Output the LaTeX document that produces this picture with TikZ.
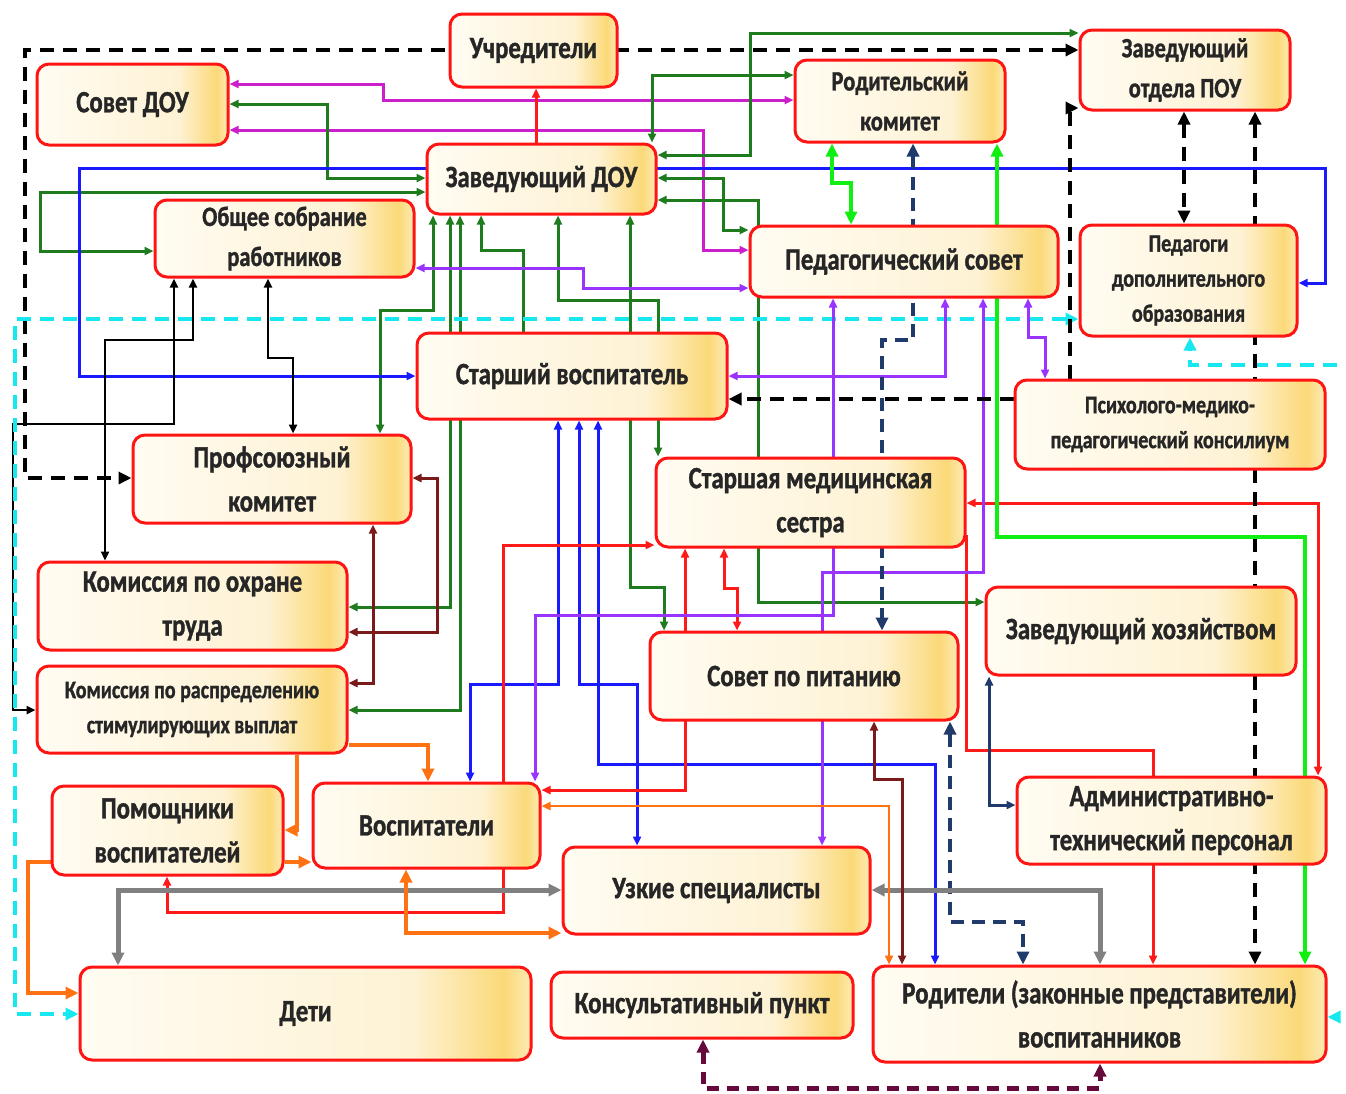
\documentclass[tikz,border=0pt]{standalone}
\usepackage{fontspec}
\setmainfont{Carlito}[FakeStretch=0.8, BoldFeatures={FakeBold=1.2}]
\usetikzlibrary{arrows.meta}
\pgfdeclarelayer{back}
\pgfdeclarelayer{bg}
\pgfsetlayers{back,bg,main}
\definecolor{boxred}{HTML}{FF1414}
\definecolor{dgreen}{HTML}{1E7B1E}
\definecolor{bgreen}{HTML}{11EE11}
\definecolor{magn}{HTML}{CC1FCC}
\definecolor{viol}{HTML}{9933FF}
\definecolor{blu}{HTML}{1A1AFF}
\definecolor{navyc}{HTML}{1F3A6B}
\definecolor{maroonc}{HTML}{7B1A1A}
\definecolor{orng}{HTML}{FF7214}
\definecolor{gry}{HTML}{808080}
\definecolor{cyn}{HTML}{17E8F0}
\definecolor{plum}{HTML}{660A3D}
\definecolor{redl}{HTML}{FF1A1A}
\definecolor{cA}{HTML}{FFFCF2}
\definecolor{cB}{HTML}{FEF2D4}
\definecolor{cC}{HTML}{FBD978}
\definecolor{cD}{HTML}{FDEBB5}
\pgfdeclarehorizontalshading{boxsh}{100bp}{color(0bp)=(cA); color(25bp)=(cA); color(62bp)=(cB); color(72bp)=(cC); color(75bp)=(cD); color(100bp)=(cD)}
\tikzset{
  box/.style={draw=boxred, line width=3pt, rounded corners=12pt, shade, shading=boxsh, inner sep=2pt, align=center, text=black!85, font=\bfseries\fontsize{31}{44}\selectfont},
  fsm/.style={font=\bfseries\fontsize{28}{40}\selectfont},
  fss/.style={font=\bfseries\fontsize{25}{35}\selectfont},
  thin/.style={>={Triangle[length=9pt,width=8pt]}},
  thick/.style={>={Triangle[length=13pt,width=12pt]}},
  bdash/.style={draw=black, line width=4pt, dash pattern=on 14pt off 9pt, thick},
  cyd/.style={draw=cyn, line width=4pt, dash pattern=on 14pt off 9pt, thick},
  nvd/.style={draw=navyc, line width=4pt, dash pattern=on 13pt off 8pt, thick},
  pdd/.style={draw=plum, line width=5pt, dash pattern=on 12pt off 8pt, thick},
  bg/.style={draw=bgreen, line width=4.5pt, thick},
  gr/.style={draw=gry, line width=5pt, thick},
  orr/.style={draw=orng, line width=4.5pt, thick},
  ort/.style={draw=orng, line width=2.5pt, thin},
  dg/.style={draw=dgreen, line width=3pt, thin},
  mg/.style={draw=magn, line width=3pt, thin},
  vi/.style={draw=viol, line width=3pt, thin},
  bl/.style={draw=blu, line width=3pt, thin},
  rd/.style={draw=redl, line width=3pt, thin},
  mr/.style={draw=maroonc, line width=3pt, thin},
  nv/.style={draw=navyc, line width=3pt, thin},
  bk/.style={draw=black, line width=2.5pt, thin},
}
\begin{document}
\begin{tikzpicture}[x=1pt,y=-1pt]
\useasboundingbox (0,0) rectangle (1346,1093);
\begin{pgfonlayer}{back}
\fill[white] (0,0) rectangle (1346,1093);
\end{pgfonlayer}

% nodes
\node[box, minimum width=167pt, minimum height=73pt] (uchr) at (533.5,50.5) {Учредители};
\node[box, minimum width=191pt, minimum height=81pt] (sovet) at (132.5,104.5) {Совет ДОУ};
\node[box, minimum width=229pt, minimum height=70pt] (zav) at (541.5,179) {Заведующий ДОУ};
\node[box, fsm, minimum width=210pt, minimum height=82pt] (rodk) at (900,101) {Родительский\\комитет};
\node[box, fsm, minimum width=210pt, minimum height=80pt] (zpou) at (1185,70) {Заведующий\\отдела ПОУ};
\node[box, fsm, minimum width=259pt, minimum height=77pt] (obsch) at (284.5,238.5) {Общее собрание\\работников};
\node[box, minimum width=308pt, minimum height=71pt] (pedsov) at (904,261.5) {Педагогический совет};
\node[box, fss, minimum width=217pt, minimum height=111pt] (pdo) at (1188.5,280.5) {Педагоги\\дополнительного\\образования};
\node[box, minimum width=310pt, minimum height=86pt] (starv) at (572,376) {Старший воспитатель};
\node[box, fss, minimum width=310pt, minimum height=89pt] (pmpk) at (1170,424.5) {Психолого-медико-\\педагогический консилиум};
\node[box, minimum width=278pt, minimum height=88pt] (prof) at (272,479) {Профсоюзный\\комитет};
\node[box, minimum width=309pt, minimum height=89pt] (medc) at (810.5,502.5) {Старшая медицинская\\сестра};
\node[box, minimum width=309pt, minimum height=88pt] (kot) at (192.5,606) {Комиссия по охране\\труда};
\node[box, minimum width=310pt, minimum height=88pt] (zavh) at (1141,631) {Заведующий хозяйством};
\node[box, minimum width=308pt, minimum height=88pt] (pit) at (804,676) {Совет по питанию};
\node[box, fss, minimum width=310pt, minimum height=87pt] (krsv) at (192,709.5) {Комиссия по распределению\\стимулирующих выплат};
\node[box, minimum width=231pt, minimum height=89pt] (pom) at (167.5,830.5) {Помощники\\воспитателей};
\node[box, minimum width=227pt, minimum height=85pt] (vos) at (426.5,825.5) {Воспитатели};
\node[box, minimum width=309pt, minimum height=87pt] (atp) at (1171.5,820.5) {Административно-\\технический персонал};
\node[box, minimum width=307pt, minimum height=87pt] (uzk) at (716.5,890.5) {Узкие специалисты};
\node[box, minimum width=451pt, minimum height=93pt] (deti) at (305.5,1013.5) {Дети};
\node[box, minimum width=302pt, minimum height=66pt] (kp) at (702,1005) {Консультативный пункт};
\node[box, minimum width=453pt, minimum height=96pt] (rod) at (1099.5,1014) {Родители (законные представители)\\воспитанников};

\begin{pgfonlayer}{bg}
% black dashed frame
\draw[bdash,<->] (zpou.west |- 0,50) -- (25,50) -- (25,478) -- (prof.west |- 0,478);
% magenta
\draw[mg,<->] (sovet.east |- 0,84) -- (383,84) -- (383,100) -- (rodk.west |- 0,100);
\draw[mg,<->] (sovet.east |- 0,130) -- (703,130) -- (703,250) -- (pedsov.west |- 0,250);
% dark green
\draw[dg,<->] (sovet.east |- 0,104) -- (327,104) -- (327,178) -- (zav.west |- 0,178);
\draw[dg,<->] (zav.west |- 0,192) -- (40,192) -- (40,251) -- (obsch.west |- 0,251);
\draw[dg,<->] (zav.east |- 0,155) -- (750,155) -- (750,33) -- (zpou.west |- 0,33);
\draw[dg,<->] (zav.north -| 652,0) -- (652,75) -- (rodk.west |- 0,75);
\draw[dg,<->] (zav.east |- 0,178) -- (723,178) -- (723,230) -- (pedsov.west |- 0,230);
\draw[dg,<->] (zav.east |- 0,200) -- (758,200) -- (758,602) -- (zavh.west |- 0,602);
\draw[dg,<->] (zav.south -| 433,0) -- (433,310) -- (380,310) -- (prof.north -| 380,0);
\draw[dg,<->] (zav.south -| 450,0) -- (450,607) -- (kot.east |- 0,607);
\draw[dg,<->] (zav.south -| 460,0) -- (460,710) -- (krsv.east |- 0,710);
\draw[dg,->] (starv.north -| 523,0) -- (523,250) -- (481,250) -- (zav.south -| 481,0);
\draw[dg,<->] (zav.south -| 558,0) -- (558,300) -- (658,300) -- (medc.north -| 658,0);
\draw[dg,<->] (zav.south -| 630,0) -- (630,587) -- (664,587) -- (pit.north -| 664,0);
% blue
\draw[bl,<->] (starv.west |- 0,376) -- (79,376) -- (79,168) -- (1325,168) -- (1325,283) -- (pdo.east |- 0,283);
\draw[bl,<->] (starv.south -| 558,0) -- (558,684) -- (470,684) -- (vos.north -| 470,0);
\draw[bl,<->] (starv.south -| 579,0) -- (579,684) -- (637,684) -- (uzk.north -| 637,0);
\draw[bl,<->] (starv.south -| 598,0) -- (598,764) -- (935,764) -- (rod.north -| 935,0);
% black thin
\draw[bk,<->] (obsch.south -| 193,0) -- (193,340) -- (105,340) -- (kot.north -| 105,0);
\draw[bk,<->] (obsch.south -| 174,0) -- (174,424) -- (13,424) -- (13,710) -- (krsv.west |- 0,710);
\draw[bk,<->] (obsch.south -| 268,0) -- (268,358) -- (293,358) -- (prof.north -| 293,0);
% cyan dashed
\draw[cyd,<->] (pdo.west |- 0,319) -- (15,319) -- (15,1014) -- (deti.west |- 0,1014);
\draw[cyd,->] (1360,365) -- (1190,365) -- (pdo.south -| 1190,0);
\draw[cyd,->] (1360,1017) -- (rod.east |- 0,1017);
% red
\draw[rd,->] (zav.north -| 536,0) -- (uchr.south -| 536,0);
\draw[rd,<->] (pom.south -| 167,0) -- (167,912) -- (503,912) -- (503,545) -- (medc.west |- 0,545);
\draw[rd,<->] (medc.south -| 685,0) -- (685,790) -- (vos.east |- 0,790);
\draw[rd,<->] (medc.south -| 724,0) -- (724,588) -- (737,588) -- (pit.north -| 737,0);
\draw[rd,<->] (medc.east |- 0,503) -- (1318,503) -- (atp.north -| 1318,0);
\draw[rd,<->] (medc.east |- 0,536) -- (966,536) -- (966,750) -- (1153,750) -- (rod.north -| 1153,0);
% violet
\draw[vi,<->] (obsch.east |- 0,268) -- (583,268) -- (583,288) -- (pedsov.west |- 0,288);
\draw[vi,<->] (pedsov.south -| 1028,0) -- (1028,337) -- (1045,337) -- (pmpk.north -| 1045,0);
\draw[vi,<->] (pedsov.south -| 945,0) -- (945,376) -- (starv.east |- 0,376);
\draw[vi,<->] (pedsov.south -| 983,0) -- (983,572) -- (822,572) -- (uzk.north -| 822,0);
\draw[vi,<->] (pedsov.south -| 833,0) -- (833,615) -- (535,615) -- (vos.north -| 535,0);
% black dashed
\draw[bdash,->] (pmpk.north -| 1070,0) -- (1070,108) -- (zpou.west |- 0,108);
\draw[bdash,->] (pmpk.west |- 0,399) -- (starv.east |- 0,399);
\draw[bdash,<->] (zpou.south -| 1184,0) -- (pdo.north -| 1184,0);
\draw[bdash,<->] (zpou.south -| 1255,0) -- (rod.north -| 1255,0);
% navy
\draw[nvd,<->] (rodk.south -| 913,0) -- (913,340) -- (882,340) -- (pit.north -| 882,0);
\draw[nvd,<->] (pit.south -| 950,0) -- (950,922) -- (1023,922) -- (rod.north -| 1023,0);
\draw[nv,<->] (zavh.south -| 989,0) -- (989,805) -- (atp.west |- 0,805);
% bright green
\draw[bg,<->] (rodk.south -| 997,0) -- (997,537) -- (1305,537) -- (rod.north -| 1305,0);
\draw[bg,<->] (rodk.south -| 832,0) -- (832,183) -- (851,183) -- (pedsov.north -| 851,0);
% grey
\draw[gr,<->] (uzk.east |- 0,890) -- (1100,890) -- (rod.north -| 1100,0);
\draw[gr,<->] (deti.north -| 118,0) -- (118,890) -- (uzk.west |- 0,890);
% maroon
\draw[mr,<->] (pit.south -| 874,0) -- (874,779) -- (902,779) -- (rod.north -| 902,0);
\draw[mr,<->] (prof.east |- 0,478) -- (437,478) -- (437,632) -- (kot.east |- 0,632);
\draw[mr,<->] (prof.south -| 373,0) -- (373,683) -- (krsv.east |- 0,683);
% orange
\draw[ort,<->] (vos.east |- 0,806) -- (889,806) -- (rod.north -| 889,0);
\draw[orr,->] (krsv.south -| 297,0) -- (297,830) -- (pom.east |- 0,830);
\draw[orr,->] (krsv.east |- 0,745) -- (428,745) -- (vos.north -| 428,0);
\draw[orr,->] (pom.east |- 0,862) -- (vos.west |- 0,862);
\draw[orr,->] (pom.west |- 0,862) -- (28,862) -- (28,993) -- (deti.west |- 0,993);
\draw[orr,<->] (vos.south -| 406,0) -- (406,933) -- (uzk.west |- 0,933);
% plum dashed
\draw[pdd,<->] (kp.south -| 703,0) -- (703,1088) -- (1100,1088) -- (rod.south -| 1100,0);
\end{pgfonlayer}
\end{tikzpicture}
\end{document}
